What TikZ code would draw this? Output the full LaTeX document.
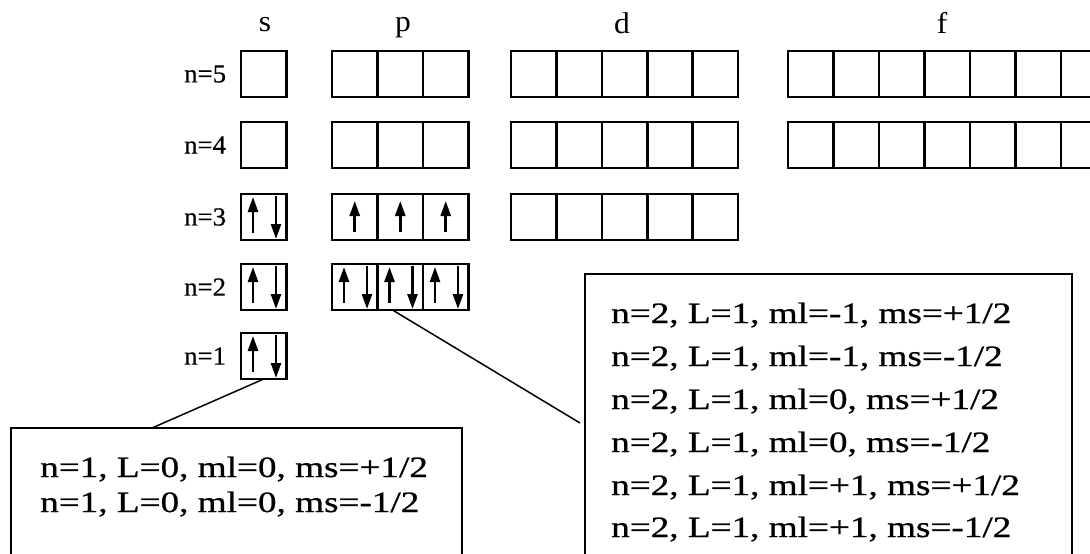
\documentclass[tikz,border=0pt]{standalone}
\usepackage{fontspec}
\setmainfont{Liberation Serif}
\newfontfamily\infofont[FakeStretch=1.26,FakeBold=0.8]{Liberation Serif}
\newfontfamily\labfont[FakeStretch=1.03,FakeBold=0.6]{Liberation Serif}
\newfontfamily\headfont[FakeStretch=1.05]{Liberation Serif}
\usetikzlibrary{arrows.meta}
\tikzset{
  cell/.style={draw, line width=2.6pt, minimum width=45.5pt, minimum height=46pt,
    inner sep=0pt, outer sep=0pt, anchor=north west},
  spin/.style={line width=2.6pt, -{Triangle[length=15pt,width=10pt]}},
  lev/.style={font=\labfont\fontsize{26}{26}\selectfont, anchor=west, inner sep=0pt},
  head/.style={font=\headfont\fontsize{30}{30}\selectfont, anchor=base, inner sep=0pt},
  info/.style={draw, line width=2.6pt, anchor=north west, inner sep=0pt, outer sep=0pt},
  infotext/.style={font=\infofont\fontsize{29.5}{35}\selectfont, anchor=base west, inner sep=0pt},
  link/.style={line width=1.5pt}
}
\begin{document}
\begin{tikzpicture}[x=1pt,y=-1pt]
\useasboundingbox (0,0) rectangle (1090,554);
\clip (0,0) rectangle (1090,554);
\fill[white] (0,0) rectangle (1090,554);

% headers
\node[head] (hs) at (265,31) {s};
\node[head] (hp) at (403,31) {p};
\node[head] (hd) at (622,33) {d};
\node[head] (hf) at (942,34) {f};

% level labels
\foreach \n/\y in {5/74,4/145,3/217,2/287,1/356}
  \node[lev] (L\n) at (184,\y) {n=\n};

% s cells
\foreach \n/\y in {5/51,4/122,3/194,2/264,1/333}
  \node[cell] (s\n) at (241,\y) {};
% p cells
\foreach \n/\y in {5/51,4/122,3/194,2/264}
  \foreach \k in {1,2,3}
    \node[cell] (p\n\k) at ({332+(\k-1)*45.5},\y) {};
% d cells
\foreach \n/\y in {5/51,4/122,3/194}
  \foreach \k in {1,...,5}
    \node[cell] (d\n\k) at ({511+(\k-1)*45.4},\y) {};
% f cells
\foreach \n/\y in {5/51,4/122}
  \foreach \k in {1,...,7}
    \node[cell] (f\n\k) at ({788+(\k-1)*45.5},\y) {};

% paired spins in s cells n=1..3 and p cells n=2
\foreach \c in {s1,s2,s3,p21,p22,p23} {
  \draw[spin] ([xshift=12pt,yshift=7pt]\c.south west) -- ([xshift=12pt,yshift=-3pt]\c.north west);
  \draw[spin] ([xshift=35pt,yshift=-2pt]\c.north west) -- ([xshift=35pt,yshift=1pt]\c.south west);
}
% single spins in p cells n=3
\foreach \c in {p31,p32,p33}
  \draw[spin] ([yshift=8pt]\c.south) -- ([yshift=-7pt]\c.north);

% info boxes
\node[info, minimum width=451pt, minimum height=200pt] (box1) at (11,428) {};
\node[info, minimum width=487pt, minimum height=340pt] (box2) at (585,274) {};

\node[infotext] (t11) at (40,477) {n=1, L=0, ml=0, ms=+1/2};
\node[infotext] (t12) at (40,512) {n=1, L=0, ml=0, ms=-1/2};

\node[infotext] (t21) at (611,323) {n=2, L=1, ml=-1, ms=+1/2};
\node[infotext] (t22) at (611,366) {n=2, L=1, ml=-1, ms=-1/2};
\node[infotext] (t23) at (611,409) {n=2, L=1, ml=0, ms=+1/2};
\node[infotext] (t24) at (611,452) {n=2, L=1, ml=0, ms=-1/2};
\node[infotext] (t25) at (611,495) {n=2, L=1, ml=+1, ms=+1/2};
\node[infotext] (t26) at (611,537) {n=2, L=1, ml=+1, ms=-1/2};

% connectors
\draw[link] (s1.south) -- ([xshift=141pt]box1.north west);
\draw[link] ([xshift=15pt]p22.south west) -- ([xshift=-5pt,yshift=-149pt]box2.north west);
\end{tikzpicture}
\end{document}
